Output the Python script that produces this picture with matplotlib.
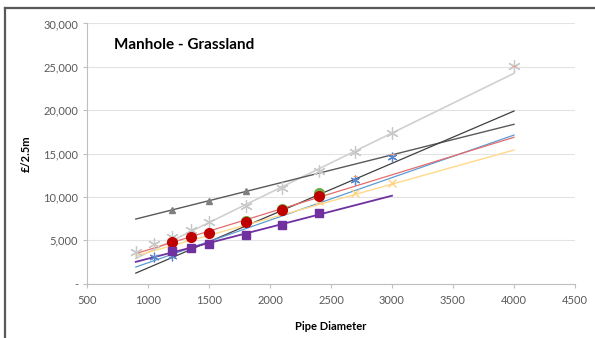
import matplotlib.pyplot as plt
from matplotlib.lines import Line2D
from matplotlib.ticker import FuncFormatter

plt.rcParams['font.family'] = ['Lato', 'DejaVu Sans']

# marker series (pipe diameter, GBP per 2.5m)
tri_x = [1200, 1500, 1800]
tri_y = [8500, 9550, 10640]

grey_x = [900, 1050, 1200, 1350, 1500, 1800, 2100, 2400, 2700, 3000, 4000]
grey_y = [3670, 4520, 5330, 6170, 7130, 8940, 10980, 12980, 15140, 17330, 25130]

blue_x = [1050, 1200, 2700, 3000]
blue_y = [3100, 3200, 11950, 14560]

redtick_x = [2700, 3000, 4000]
redtick_y = [12400, 14900, 25130]

yellow_x = [2400, 2700, 3000]
yellow_y = [9550, 10400, 11560]

green_x = [1800, 2100, 2400]
green_y = [7230, 8580, 10400]

red_x = [1200, 1350, 1500, 1800, 2100, 2400]
red_y = [4820, 5330, 5860, 7130, 8480, 10150]

purple_x = [1200, 1350, 1500, 1800, 2100, 2400]
purple_y = [3780, 4130, 4520, 5560, 6710, 8130]

# trendlines (start / end)
trend_x = [900, 4000]
trend_tri = [7440, 18370]
trend_grey = [2900, 24250]
trend_dark = [1200, 19900]
trend_red = [3450, 16870]
trend_lblue = [1900, 17130]
trend_yellow = [3200, 15400]
purple_trend_x = [900, 3000]
trend_purple = [2500, 10130]

fig = plt.figure(figsize=(5.95, 3.38), dpi=100)
ax = fig.add_axes([0.1462, 0.1612, 0.8202, 0.7693])

# trendlines
ax.plot(trend_x, trend_grey, color='#d0d0d0', lw=1.2, zorder=2)
ax.plot(trend_x, trend_tri, color='#595959', lw=1.0, zorder=2)
ax.plot(trend_x, trend_dark, color='#404040', lw=0.9, zorder=2)
ax.plot(trend_x, trend_lblue, color='#5b9bd5', lw=0.9, zorder=2)
ax.plot(trend_x, trend_red, color='#e46c6c', lw=0.9, zorder=2)
ax.plot(trend_x, trend_yellow, color='#ffd98a', lw=1.0, zorder=2)
ax.plot(purple_trend_x, trend_purple, color='#7030a0', lw=1.3, zorder=2)

# markers
ax.plot(tri_x, tri_y, ls='none', marker='^', ms=4.5, color='#7f7f7f', zorder=4)
ax.plot(grey_x, grey_y, ls='none', marker=(6, 2, 0), ms=9, mew=0.9, color='#c8c8c8', zorder=4)
ax.plot(redtick_x, redtick_y, ls='none', marker='_', ms=2.5, mew=0.8, color='#f0a080', zorder=5)
ax.plot(blue_x, blue_y, ls='none', marker=(6, 2, 0), ms=7, mew=0.9, color='#5b86cc', zorder=4)
ax.plot(yellow_x, yellow_y, ls='none', marker='x', ms=6, mew=1.0, color='#ffd27f', zorder=4)
ax.plot(green_x, green_y, ls='none', marker='o', ms=7, color='#70ad47', zorder=5)
ax.plot(red_x, red_y, ls='none', marker='o', ms=7, color='#c00000', zorder=6)
ax.plot(purple_x, purple_y, ls='none', marker='s', ms=6, color='#7030a0', zorder=6)

ax.set_xlim(500, 4500)
ax.set_ylim(0, 30000)
ax.set_xticks(range(500, 4501, 500))
ax.set_yticks(range(0, 30001, 5000))
ax.yaxis.set_major_formatter(FuncFormatter(lambda v, p: '-' if v == 0 else f'{int(v):,}'))
ax.grid(axis='y', color='#e3e3e3', lw=0.8)
ax.set_axisbelow(True)
for s in ['top', 'right']:
    ax.spines[s].set_visible(False)
for s in ['left', 'bottom']:
    ax.spines[s].set_color('#bfbfbf')
    ax.spines[s].set_linewidth(0.8)
ax.tick_params(axis='both', colors='#bfbfbf', labelcolor='#595959', labelsize=8, length=3, width=0.8)
ax.tick_params(axis='x', pad=5)

ax.text(0.055, 0.945, 'Manhole - Grassland', transform=ax.transAxes, fontsize=11,
        fontweight='bold', color='black', va='top', ha='left')
ax.set_xlabel('Pipe Diameter', fontsize=8, fontweight='bold')
ax.xaxis.set_label_coords(0.5, -0.145)
ax.set_ylabel('£/2.5m', fontsize=8, fontweight='bold')
ax.yaxis.set_label_coords(-0.113, 0.5)

# outer frame of the screenshot
fig.add_artist(Line2D([5 / 595, 5 / 595], [0, 1 - 8 / 338], color='#595959', lw=1.6))
fig.add_artist(Line2D([5 / 595, 1], [1 - 8 / 338, 1 - 8 / 338], color='#595959', lw=1.6))

fig.savefig('out.png', dpi=100)
